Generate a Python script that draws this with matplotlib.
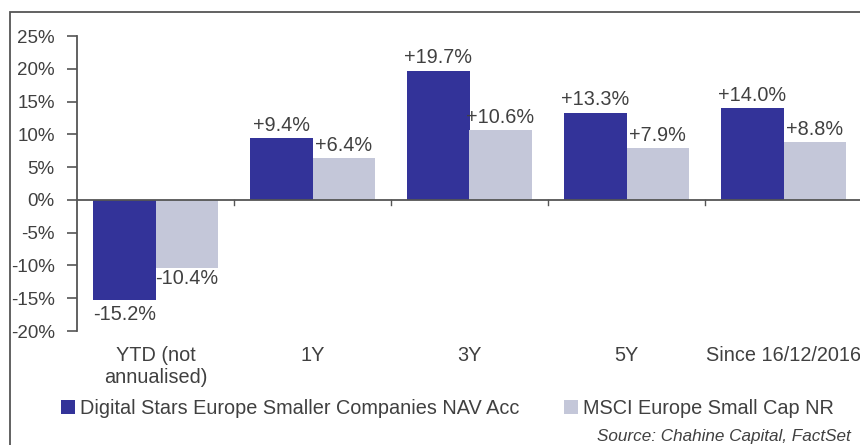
import matplotlib
matplotlib.use("Agg")
import matplotlib.pyplot as plt
from matplotlib.patches import Rectangle
import numpy as np

categories = ["YTD (not\nannualised)", "1Y", "3Y", "5Y", "Since 16/12/2016"]
fund = [-15.2, 9.4, 19.7, 13.3, 14.0]
index = [-10.4, 6.4, 10.6, 7.9, 8.8]
series_names = ["Digital Stars Europe Smaller Companies NAV Acc", "MSCI Europe Small Cap NR"]
yticks = [-20, -15, -10, -5, 0, 5, 10, 15, 20, 25]

dark = "#333399"
light = "#C4C7D9"
txt = "#404040"

plt.rcParams['font.family'] = ['Liberation Sans', 'DejaVu Sans']

fig = plt.figure(figsize=(8.6, 4.45), dpi=100)
ax = fig.add_axes([77/860, 1-331/445, (862-77)/860, (331-36)/445])

x = np.arange(len(categories))
w = 0.395
b1 = ax.bar(x - w/2, fund, w, color=dark, label=series_names[0])
b2 = ax.bar(x + w/2, index, w, color=light, label=series_names[1])

fs = 14.3
for xi, v in zip(x - w/2, fund):
    ax.text(xi, v + (0.5 if v >= 0 else -0.8), f"{v:+.1f}%", ha="center",
            va="bottom" if v >= 0 else "top", fontsize=fs, color=txt)
for xi, v in zip(x + w/2, index):
    ax.text(xi, v + (0.5 if v >= 0 else -0.2), f"{v:+.1f}%", ha="center",
            va="bottom" if v >= 0 else "top", fontsize=fs, color=txt)

ax.set_xlim(-0.5, len(categories) - 0.5)
ax.set_ylim(-20, 25)
ax.set_yticks(yticks)
ax.set_yticklabels([f"{t}%" for t in yticks], fontsize=13.5, color=txt)
ax.tick_params(axis="y", direction="out", length=7, width=1.2, color="#555555", pad=9)

for s in ["top", "right", "bottom"]:
    ax.spines[s].set_visible(False)
ax.spines["left"].set_color("#555555")
ax.spines["left"].set_linewidth(1.3)
ax.axhline(0, color="#555555", linewidth=1.3)
ax.set_xticks([])
for b in np.arange(0.5, len(categories) - 0.5, 1.0):
    ax.plot([b, b], [0, -0.8], color="#555555", lw=1.0, clip_on=False)
for xi, c in zip(x, categories):
    ax.text(xi, -22.3, c, ha="center", va="top", fontsize=fs, color=txt, linespacing=1.2)

leg = fig.legend(handles=[b1, b2], labels=series_names, loc="center left",
                 bbox_to_anchor=(43/860, 1-408/445), ncol=2, frameon=False,
                 fontsize=fs, handlelength=0.7, handleheight=0.7, handletextpad=0.25,
                 columnspacing=2.25, labelcolor=txt)

fig.text(851/860, 1-437/445, "Source: Chahine Capital, FactSet", ha="right", va="center",
         fontsize=12.3, style="italic", color=txt)

fig.patches.append(Rectangle((10/860, -0.05), 1.0, 1-12/445 + 0.05, transform=fig.transFigure,
                             fill=False, edgecolor="#555555", linewidth=1.3))

fig.savefig("out.png", dpi=100)
